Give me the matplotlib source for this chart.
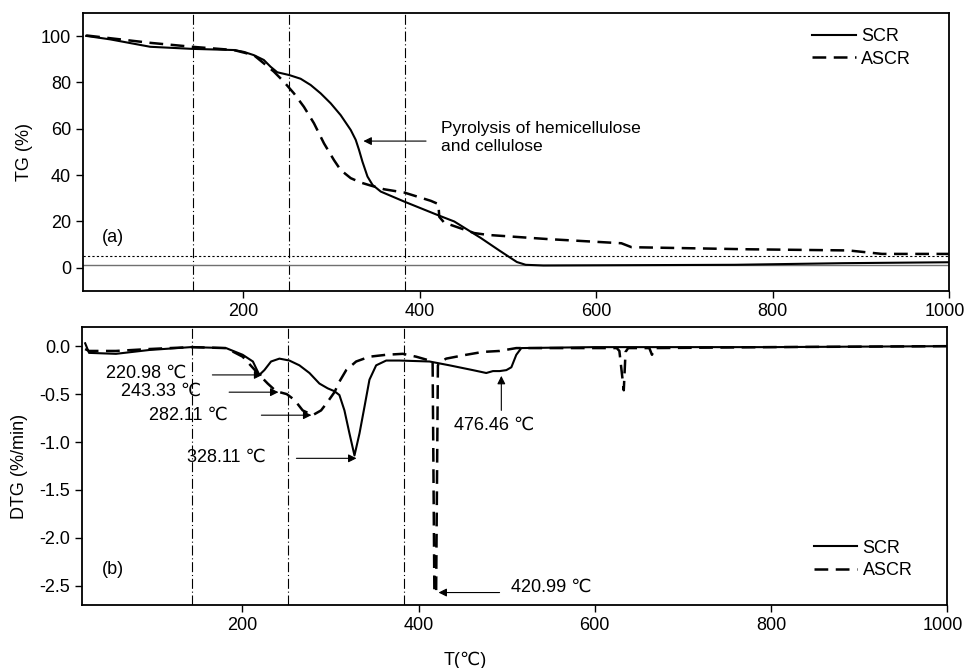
import numpy as np
import matplotlib
matplotlib.use("Agg")
import matplotlib.pyplot as plt
from matplotlib.transforms import ScaledTranslation

plt.rcParams['font.family'] = ['Liberation Sans', 'DejaVu Sans']
plt.rcParams['font.size'] = 13

# TG curves (temperature in C, mass %)
tg_scr_t = [21.6, 48.9, 94.3, 141.7, 189.0, 200.4, 211.7, 223.1, 230.7, 238.3,
            251.9, 264.8, 276.2, 287.5, 298.9, 310.2, 321.6, 327.3, 331.0, 334.9,
            340.6, 346.3, 355.7, 382.2, 420, 439, 469, 490, 510, 520, 540, 757,
            880, 1000]
tg_scr = [100.1, 98.6, 95.4, 94.5, 94.0, 93.2, 91.8, 89.7, 86.8, 84.4,
          83.2, 81.6, 78.9, 75.3, 71.0, 65.9, 59.5, 55.2, 50.9, 45.8,
          39.4, 35.8, 32.9, 28.6, 22.8, 20.0, 12.9, 7.5, 2.5, 1.3, 1.0, 1.3,
          2.0, 2.4]

tg_ascr_t = [21.6, 94.3, 141.7, 189, 211.7, 234.4, 245.8, 257.2, 268.5, 279.9,
             291.3, 302.6, 310.2, 321.6, 333, 344.3, 359.4, 382.2, 412.5, 421,
             422, 427.6, 461.7, 476.9, 545, 628.5, 640, 772, 886, 924, 1000]
tg_ascr = [100.3, 97.1, 95.4, 94.0, 91.8, 84.7, 80.3, 75.3, 69.5, 62.4,
           53.7, 46.5, 42.2, 38.7, 36.8, 35.5, 33.9, 32.5, 28.9, 27.5,
           22.0, 19.5, 15.0, 14.2, 12.4, 10.6, 8.9, 8.0, 7.5, 6.0, 6.0]

# DTG curves (%/min)
dtg_scr_t = [21.6, 26, 56.5, 94.3, 141.7, 181.5, 200.4, 212, 219.3, 225, 232.6,
             242.1, 253.4, 264.8, 276.2, 287.5, 296.9, 304.6, 310.2, 315.9, 321.6,
             327.3, 333, 338.7, 344.3, 351.9, 363.3, 378.4, 412.5, 435.2, 461.7,
             476.9, 484.5, 492.1, 499.7, 505.4, 511, 516.7, 600, 800, 1000]
dtg_scr = [0.03, -0.07, -0.08, -0.04, -0.01, -0.02, -0.09, -0.16, -0.30, -0.25,
           -0.16, -0.13, -0.15, -0.20, -0.28, -0.39, -0.44, -0.47, -0.51, -0.67,
           -0.91, -1.14, -0.91, -0.63, -0.35, -0.20, -0.15, -0.15, -0.16, -0.20,
           -0.25, -0.28, -0.26, -0.26, -0.25, -0.22, -0.09, -0.02, -0.01, -0.01,
           0.0]

dtg_ascr_t = [21.6, 26, 56.5, 94.3, 141.7, 181.5, 200.4, 219.3, 228.8, 238.3,
              250.4, 259.1, 268.5, 279.9, 289.4, 296.9, 304.6, 310.2, 317.9,
              329.2, 344.3, 363.3, 382.2, 397.4, 412.5, 416, 418, 420, 422, 424,
              431.4, 454.1, 473, 492.1, 511, 625, 628, 633, 635, 638, 662, 665,
              668, 800, 1000]
dtg_ascr = [-0.03, -0.05, -0.05, -0.03, -0.01, -0.02, -0.11, -0.30, -0.39, -0.47,
            -0.50, -0.56, -0.67, -0.72, -0.67, -0.58, -0.48, -0.37, -0.25,
            -0.16, -0.11, -0.09, -0.08, -0.11, -0.15, -0.16, -2.57, -2.57, -0.20,
            -0.17, -0.13, -0.09, -0.06, -0.05, -0.02, -0.02, -0.05, -0.46, -0.06,
            -0.02, -0.02, -0.09, -0.02, -0.01, 0.0]

stage_lines = [143, 252, 383]

# peak labels: (text, head x, head y, tail x, tail y, text x, text y)
peaks = [
    ("220.98 \u2103", 222.7, -0.30, 166, -0.30, 137, -0.28),
    ("243.33 \u2103", 241, -0.48, 185, -0.48, 153, -0.47),
    ("282.11 \u2103", 278.4, -0.72, 221.6, -0.72, 184, -0.72),
    ("328.11 \u2103", 329.6, -1.17, 261.4, -1.17, 227, -1.16),
]

dash = (0, (5.5, 3))
dashdot = (0, (9, 2.5, 1, 2.5))

fig = plt.figure(figsize=(9.67, 6.68), dpi=100)
ax1 = fig.add_axes([0.0858, 0.5644, 0.8956, 0.4162])
ax2 = fig.add_axes([0.0848, 0.0943, 0.8946, 0.4162])

for ax in (ax1, ax2):
    ax.set_xlim(18, 1000)
    ax.set_xticks([200, 400, 600, 800, 1000])
    for v in stage_lines:
        ax.axvline(v, color='black', lw=0.8, ls=dashdot)
    for s in ax.spines.values():
        s.set_linewidth(1.3)
    ax.tick_params(direction='out', length=5, width=1, labelsize=13)
    # keep the last "1000" label inside the figure edge
    last = ax.get_xticklabels()[-1]
    last.set_transform(last.get_transform() +
                       ScaledTranslation(-3 / 72, 0, fig.dpi_scale_trans))

# ---- (a) TG ----
ax1.set_ylim(-10, 110)
ax1.set_yticks([0, 20, 40, 60, 80, 100])
ax1.axhline(1.2, color='#707070', lw=1.0)
ax1.axhline(5.3, color='black', lw=0.8, ls=(0, (2, 2)))
ax1.plot(tg_scr_t, tg_scr, color='black', lw=1.5, label='SCR')
ax1.plot(tg_ascr_t, tg_ascr, color='black', lw=1.8, ls=dash, label='ASCR')
ax1.set_ylabel('TG (%)', fontsize=13, labelpad=6)
ax1.text(40, 13, '(a)', fontsize=13, va='center')
ax1.annotate('', xy=(336, 54.7), xytext=(407, 54.7),
             arrowprops=dict(arrowstyle='-|>', color='black', lw=0.8,
                             mutation_scale=12, shrinkA=0, shrinkB=0))
ax1.text(424, 56.2, 'Pyrolysis of hemicellulose\nand cellulose', fontsize=12.6,
         va='center', ha='left', linespacing=1.25)
ax1.legend(loc='upper left', bbox_to_anchor=(0.842, 0.945), frameon=False,
           borderpad=0, borderaxespad=0, handlelength=2.4, handletextpad=0.3,
           labelspacing=0.3, fontsize=13)

# ---- (b) DTG ----
ax2.set_ylim(-2.7, 0.2)
ax2.set_yticks([0.0, -0.5, -1.0, -1.5, -2.0, -2.5])
ax2.set_yticklabels(['0.0', '-0.5', '-1.0', '-1.5', '-2.0', '-2.5'])
ax2.plot(dtg_scr_t, dtg_scr, color='black', lw=1.5, label='SCR')
ax2.plot(dtg_ascr_t, dtg_ascr, color='black', lw=1.8, ls=dash, label='ASCR')
ax2.set_ylabel('DTG (%/min)', fontsize=13, labelpad=8)
ax2.text(40, -2.33, '(b)', fontsize=13, va='center')

arrow = dict(arrowstyle='-|>', color='black', lw=0.8, mutation_scale=12,
             shrinkA=0, shrinkB=0)
for label, hx, hy, tx, ty, lx, ly in peaks:
    ax2.annotate('', xy=(hx, hy), xytext=(tx, ty), arrowprops=arrow)
    ax2.text(lx, ly, label, fontsize=13, ha='right', va='center')

ax2.annotate('', xy=(494, -0.31), xytext=(494, -0.67), arrowprops=arrow)
ax2.text(486, -0.82, '476.46 \u2103', fontsize=13, ha='center', va='center')
ax2.annotate('', xy=(422.7, -2.57), xytext=(492, -2.57), arrowprops=arrow)
ax2.text(505, -2.51, '420.99 \u2103', fontsize=13, ha='left', va='center')

ax2.legend(loc='upper left', bbox_to_anchor=(0.846, 0.235), frameon=False,
           borderpad=0, borderaxespad=0, handlelength=2.4, handletextpad=0.3,
           labelspacing=0.3, fontsize=13)

fig.text(465 / 967, 1 - 660 / 668, 'T(\u2103)', fontsize=13, ha='center', va='center')

fig.savefig('out.png', dpi=100)
